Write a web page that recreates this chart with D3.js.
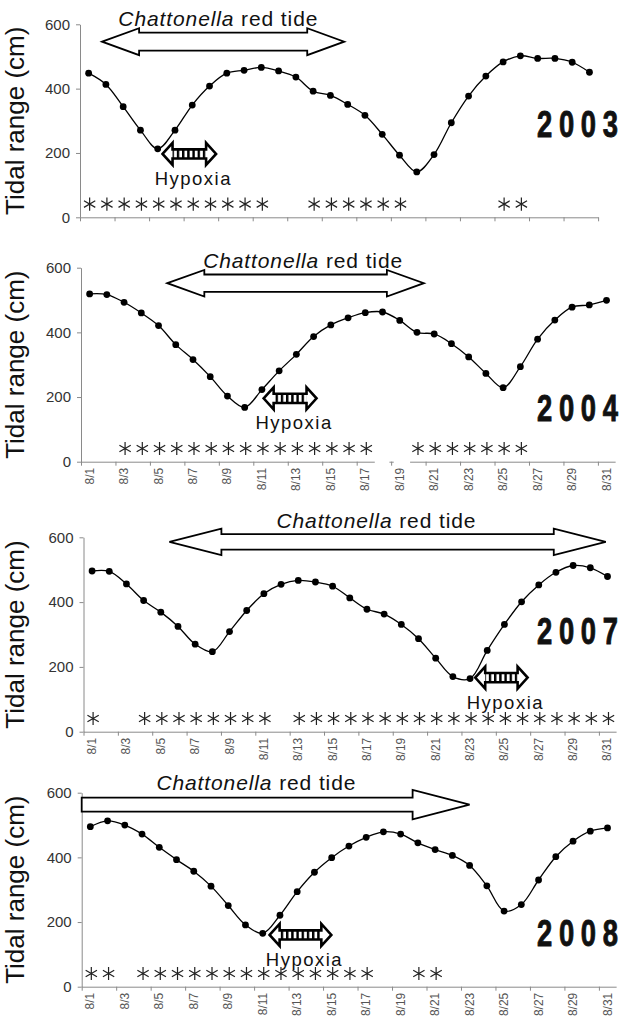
<!DOCTYPE html>
<html>
<head>
<meta charset="utf-8">
<script src="https://cdn.jsdelivr.net/npm/d3@7"></script>
<style>
  html, body { margin: 0; padding: 0; background: #fff; }
  svg { display: block; font-family: "Liberation Sans", Arial, sans-serif; }
</style>
</head>
<body>
<div id="chart"></div>
<script>
const width = 627;
const height = 1018;

// categories / ticks
const dates = ['8/1', '8/2', '8/3', '8/4', '8/5', '8/6', '8/7', '8/8', '8/9', '8/10',
  '8/11', '8/12', '8/13', '8/14', '8/15', '8/16', '8/17', '8/18', '8/19', '8/20',
  '8/21', '8/22', '8/23', '8/24', '8/25', '8/26', '8/27', '8/28', '8/29', '8/30', '8/31'];
const yTicks = [0, 200, 400, 600];

// tidal range (cm), one value per day
const tidal2003 = [448, 413, 344, 271, 213, 271, 349, 408, 448, 457, 466, 455, 436, 392, 379,
  351, 317, 258, 193, 141, 195, 294, 377, 439, 483, 502, 494, 494, 482, 451];
const tidal2004 = [519, 517, 493, 460, 421, 362, 316, 263, 203, 168, 223, 281, 332, 387, 423,
  445, 461, 463, 437, 400, 395, 365, 324, 273, 229, 294, 379, 438, 478, 485, 499];
const tidal2007 = [496, 495, 456, 405, 369, 325, 270, 247, 309, 374, 426, 455, 467, 462, 449,
  413, 378, 363, 331, 287, 227, 170, 164, 251, 331, 401, 453, 492, 513, 506, 479];
const tidal2008 = [495, 513, 500, 472, 431, 393, 357, 311, 251, 191, 165, 221, 294, 354, 399,
  435, 462, 479, 472, 445, 424, 406, 375, 312, 234, 254, 330, 402, 450, 481, 491];

// days marked with an asterisk
const stars2003 = [1, 2, 3, 4, 5, 6, 7, 8, 9, 10, 11, 14, 15, 16, 17, 18, 19, 25, 26];
const stars2004 = [3, 4, 5, 6, 7, 8, 9, 10, 11, 12, 13, 14, 15, 16, 17, 20, 21, 22, 23, 24, 25, 26];
const stars2007 = [1, 4, 5, 6, 7, 8, 9, 10, 11, 13, 14, 15, 16, 17, 18, 19, 20, 21, 22, 23, 24,
  25, 26, 27, 28, 29, 30, 31];
const stars2008 = [1, 2, 4, 5, 6, 7, 8, 9, 10, 11, 12, 13, 14, 15, 16, 17, 20, 21];

// periods (day units) of the red tide and of hypoxia
const redTide2003 = [1.78, 15.8];
const redTide2004 = [5.51, 20.4];
const redTide2007 = [5.5, 30.9];
const redTide2008 = [0.5, 23.0];
const hypoxia2003 = [5.28, 8.38];
const hypoxia2004 = [11.1, 14.17];
const hypoxia2007 = [23.3, 26.35];
const hypoxia2008 = [11.4, 14.98];

const panels = [
  {year: '2003', values: tidal2003, stars: stars2003, redTide: redTide2003, hypoxia: hypoxia2003},
  {year: '2004', values: tidal2004, stars: stars2004, redTide: redTide2004, hypoxia: hypoxia2004},
  {year: '2007', values: tidal2007, stars: stars2007, redTide: redTide2007, hypoxia: hypoxia2007},
  {year: '2008', values: tidal2008, stars: stars2008, redTide: redTide2008, hypoxia: hypoxia2008}
];

// layout of each panel (pixels, plus annotation anchors in data units)
const layouts = [
  {x0: 80, step: 17.27, yTop: 24.3, yBot: 217.3, labels: false, tideAt: 546, headLen: 37, headHalf: 13.5, shaftHalf: 9,
    textDay: 8.51, textAt: 595, hypAt: 197, yearAt: 250, gaps: []},
  {x0: 81, step: 17.23, yTop: 267.7, yBot: 461.7, labels: true, tideAt: 552, headLen: 37, headHalf: 13.3, shaftHalf: 8.7,
    textDay: 13.39, textAt: 600, hypAt: 196, yearAt: 126, gaps: [[17.05, 17.9], [18.15, 19.1]]},
  {x0: 83.5, step: 17.18, yTop: 537.3, yBot: 731.7, labels: true, tideAt: 586, headLen: 52, headHalf: 13.3, shaftHalf: 7.8,
    textDay: 17.55, textAt: 628, hypAt: 167, yearAt: 272, gaps: []},
  {x0: 81.7, step: 17.24, yTop: 792.7, yBot: 986.7, labels: true, tideAt: 563, headLen: 57, headHalf: 14.7, shaftHalf: 7,
    textDay: 10.63, textAt: 608, hypAt: 160, yearAt: 127, gaps: []}
];

const svg = d3.select('#chart').append('svg')
  .attr('width', width)
  .attr('height', height);

const defs = svg.append('defs');
const stripes = defs.append('pattern')
  .attr('id', 'stripes')
  .attr('patternUnits', 'userSpaceOnUse')
  .attr('width', 5.2)
  .attr('height', 10);
stripes.append('rect').attr('width', 5.2).attr('height', 10).attr('fill', '#fff');
stripes.append('rect').attr('width', 2.4).attr('height', 10).attr('fill', '#000');

function arrowPoints (xl, xr, cy, hl, hh, sh, single) {
  if (single) {
    return [[xl, cy - sh], [xr - hl, cy - sh], [xr - hl, cy - hh], [xr, cy],
      [xr - hl, cy + hh], [xr - hl, cy + sh], [xl, cy + sh]];
  }
  return [[xl, cy], [xl + hl, cy - hh], [xl + hl, cy - sh], [xr - hl, cy - sh], [xr - hl, cy - hh],
    [xr, cy], [xr - hl, cy + hh], [xr - hl, cy + sh], [xl + hl, cy + sh], [xl + hl, cy + hh]];
}

function fitText (sel, target) {
  const node = sel.node();
  const len = node.getComputedTextLength();
  const n = node.textContent.length;
  sel.attr('letter-spacing', ((target - len) / n).toFixed(2));
}

panels.forEach(function (p, idx) {
  const L = layouts[idx];
  const n = p.values.length;
  const cats = dates.slice(0, n);
  const x1 = L.x0 + n * L.step;

  const xBand = d3.scaleBand().domain(cats).range([L.x0, x1]);
  const xDay = d3.scaleLinear().domain([0.5, n + 0.5]).range([L.x0, x1]);
  const y = d3.scaleLinear().domain([0, 600]).range([L.yBot, L.yTop]);
  const cx = function (d, i) { return xBand(cats[i]) + xBand.bandwidth() / 2; };

  const g = svg.append('g').attr('class', 'panel');

  // y axis
  const yAxis = g.append('g')
    .attr('transform', `translate(${L.x0},0)`)
    .call(d3.axisLeft(y).tickValues(yTicks).tickSize(4).tickSizeOuter(0).tickPadding(6));
  yAxis.select('.domain').attr('stroke', '#8a8a8a');
  yAxis.selectAll('.tick line').attr('stroke', '#8a8a8a');
  yAxis.selectAll('.tick text')
    .attr('font-size', 15)
    .attr('fill', '#333')
    .attr('font-family', '"Liberation Sans", Arial, sans-serif');

  // x axis: tick marks every second day boundary
  const boundaries = d3.range(0, n + 1, 2).map(k => k + 0.5);
  const xAxis = g.append('g')
    .attr('transform', `translate(0,${L.yBot})`)
    .call(d3.axisBottom(xDay).tickValues(boundaries).tickSize(4).tickSizeOuter(0).tickFormat(''));
  xAxis.select('.domain').attr('stroke', '#8a8a8a');
  xAxis.selectAll('.tick line').attr('stroke', '#8a8a8a');

  L.gaps.forEach(function (gap) {
    g.append('rect')
      .attr('x', xDay(gap[0] + 0.5))
      .attr('y', L.yBot - 1.5)
      .attr('width', xDay(gap[1] + 0.5) - xDay(gap[0] + 0.5))
      .attr('height', 3)
      .attr('fill', '#fff');
  });

  if (L.labels) {
    g.selectAll('.xlabel')
      .data(cats.filter((c, i) => i % 2 === 0))
      .enter().append('text')
        .attr('class', 'xlabel')
        .attr('transform', d => `translate(${xBand(d) + xBand.bandwidth() / 2 + 4},${L.yBot + 6}) rotate(-90)`)
        .attr('text-anchor', 'end')
        .attr('font-size', 12)
        .attr('fill', '#555')
        .text(d => d);
  }

  // y axis title
  g.append('text')
    .attr('transform', `translate(24,${(L.yTop + L.yBot) / 2}) rotate(-90)`)
    .attr('text-anchor', 'middle')
    .attr('font-size', 26)
    .attr('fill', '#111')
    .text('Tidal range (cm)');

  // asterisks
  g.selectAll('.star')
    .data(p.stars)
    .enter().append('path')
      .attr('class', 'star')
      .attr('d', d3.symbol(d3.symbolAsterisk, 120))
      .attr('transform', d => `translate(${xDay(d) + 1},${y(41)})`)
      .attr('fill', 'none')
      .attr('stroke', '#222')
      .attr('stroke-width', 1.2);

  // tidal range line
  const line = d3.line()
    .x(cx)
    .y(d => y(d))
    .curve(d3.curveCatmullRom.alpha(0.5));

  g.append('path')
    .datum(p.values)
    .attr('d', line)
    .attr('fill', 'none')
    .attr('stroke', '#000')
    .attr('stroke-width', 1.3);

  g.selectAll('.dot')
    .data(p.values)
    .enter().append('circle')
      .attr('class', 'dot')
      .attr('cx', cx)
      .attr('cy', d => y(d))
      .attr('r', 3.4)
      .attr('fill', '#000');

  // Chattonella red tide arrow
  const single = p.redTide[0] <= 0.5;
  g.append('polygon')
    .attr('points', arrowPoints(xDay(p.redTide[0]), xDay(p.redTide[1]), y(L.tideAt),
      L.headLen, L.headHalf, L.shaftHalf, single).join(' '))
    .attr('fill', '#fff')
    .attr('stroke', '#000')
    .attr('stroke-width', 1.8);

  const tideText = g.append('text')
    .attr('x', xDay(L.textDay))
    .attr('y', y(L.textAt))
    .attr('text-anchor', 'middle')
    .attr('font-size', 21)
    .attr('fill', '#111');
  tideText.append('tspan').attr('font-style', 'italic').text('Chattonella');
  tideText.append('tspan').text(' red tide');
  fitText(tideText, 200);

  // hypoxia arrow
  const hx0 = xDay(p.hypoxia[0]);
  const hx1 = xDay(p.hypoxia[1]);
  const hy = y(L.hypAt);
  const hPts = arrowPoints(hx0, hx1, hy, 10, 11, 4.6, false).join(' ');
  g.append('polygon').attr('points', hPts).attr('fill', '#fff');
  g.append('rect')
    .attr('x', hx0 + 10)
    .attr('y', hy - 4.6)
    .attr('width', hx1 - hx0 - 20)
    .attr('height', 9.2)
    .attr('fill', 'url(#stripes)');
  g.append('polygon')
    .attr('points', hPts)
    .attr('fill', 'none')
    .attr('stroke', '#000')
    .attr('stroke-width', 2.6);

  g.append('text')
    .attr('x', (hx0 + hx1) / 2 + 4)
    .attr('y', hy + 31)
    .attr('text-anchor', 'middle')
    .attr('font-size', 18.5)
    .attr('letter-spacing', 1.5)
    .attr('fill', '#111')
    .text('Hypoxia');

  // year label, condensed bold digits with wide spacing
  g.append('text')
    .attr('transform', `translate(537,${y(L.yearAt)}) scale(0.74,1)`)
    .attr('font-size', 37)
    .attr('font-weight', 'bold')
    .attr('letter-spacing', 9)
    .attr('fill', '#111')
    .attr('stroke', '#111')
    .attr('stroke-width', 0.9)
    .text(p.year);
});
</script>
</body>
</html>
